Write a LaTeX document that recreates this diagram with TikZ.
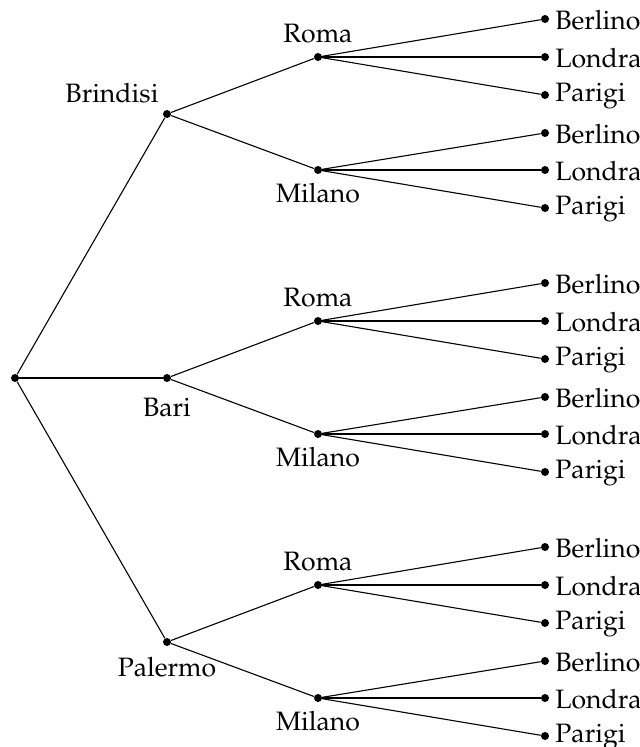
\documentclass[tikz,border=0pt]{standalone}
\usepackage[T1]{fontenc}
\usepackage{mathpazo}
\begin{document}
\begin{tikzpicture}[x=0.5pt,y=-0.5pt,
  dot/.style={circle,fill=black,inner sep=0pt,minimum size=4pt},
  lab/.style={font=\fontsize{13.3}{15}\selectfont,inner sep=1pt},
  leaf/.style={dot,label={[lab,xshift=1.8pt,yshift=-0.5pt]right:#1}},
  edge/.style={line width=0.55pt}]
\useasboundingbox (0,0) rectangle (640,747);
\node[dot,label={[lab,xshift=-1.5pt,yshift=2.5pt]above left:Brindisi}] (b) at (167,114) {};
\node[dot] (r) at (15,378) {};
\node[dot,label={[lab,yshift=-6.5pt]below:Bari}] (ba) at (167,378) {};
\node[dot,label={[lab,yshift=-4pt]below:Palermo}] (p) at (167,642) {};
\foreach \n/\y in {b/114,ba/378,p/642}{
  \draw[edge] (r) -- (\n);
  \node[dot,label={[lab,yshift=3.5pt]above:Roma}] (\n R) at (318,\y-57) {};
  \node[dot,label={[lab,yshift=-3pt]below:Milano}] (\n M) at (318,\y+56) {};
  \draw[edge] (\n) -- (\n R);
  \draw[edge] (\n) -- (\n M);
  \node[leaf=Berlino] (\n R1) at (545,\y-95) {};
  \node[leaf=Londra] (\n R2) at (545,\y-57) {};
  \node[leaf=Parigi] (\n R3) at (545,\y-19) {};
  \node[leaf=Berlino] (\n M1) at (545,\y+19) {};
  \node[leaf=Londra] (\n M2) at (545,\y+56) {};
  \node[leaf=Parigi] (\n M3) at (545,\y+94) {};
  \foreach \k in {1,2,3}{
    \draw[edge] (\n R) -- (\n R\k);
    \draw[edge] (\n M) -- (\n M\k);
  }
}
\end{tikzpicture}
\end{document}
